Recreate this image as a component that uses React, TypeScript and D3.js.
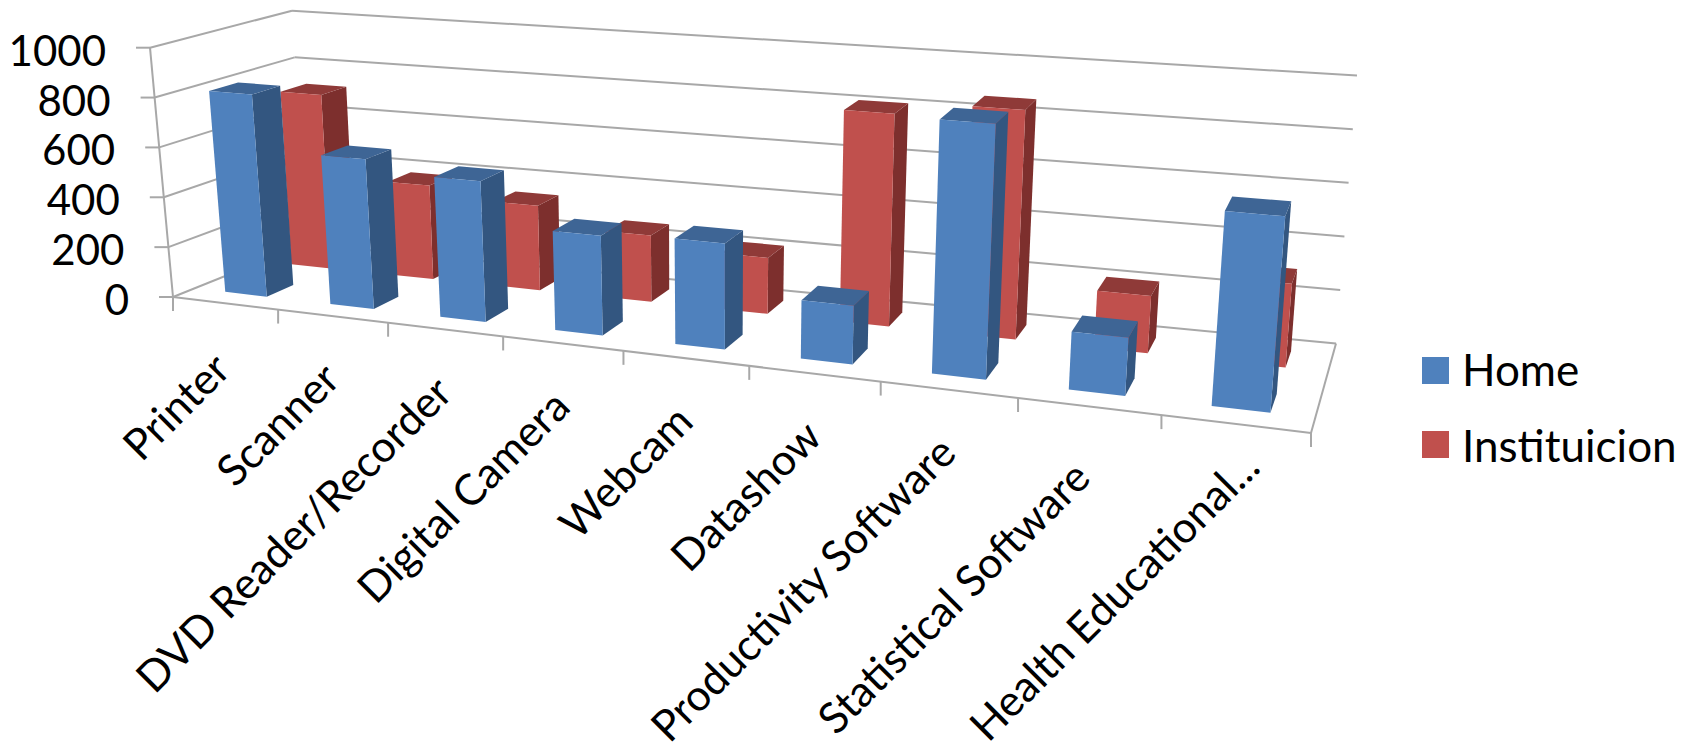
import React from "react";
import * as d3 from "d3";

const categories = [
  "Printer", "Scanner", "DVD Reader/Recorder", "Digital Camera", "Webcam",
  "Datashow", "Productivity Software", "Statistical Software", "Health Educational...",
];
const homeValues = [810, 590, 545, 380, 397, 215, 922, 205, 680];
const institutionValues = [720, 382, 340, 262, 218, 815, 865, 212, 305];
const valueTicks = [0, 200, 400, 600, 800, 1000];
const seriesNames = ["Home", "Instituicion"];

const WIDTH = 1694;
const HEIGHT = 751;
const FONT = "Lato, Carlito, sans-serif";
const GRID = "#a8a8a8";

type P = [number, number];

// Screen quads of the floor and the ceiling of the plot box, in the order
// front-left, front-right, back-right, back-left.
const floorQuad: P[] = [[173, 297], [1311, 433], [1336, 343.6], [305, 244]];
const ceilingQuad: P[] = [[150, 47.7], [1335, 138], [1357, 75.6], [292, 10.7]];

// Eases the foreshortening along the category direction; the back of the box eases less.
const easeCategory = (u: number, w: number) => u + (0.135 - 0.03 * w) * u * (1 - u);

// Per-label adjustment of the slanted category text.
const labelNudges: Record<string, P> = {
  Printer: [-2, 3],
  "Statistical Software": [-6, 8],
  "Health Educational...": [17, -20],
};

// Perspective mapping of the unit square onto a quad.
function squareToQuad(q: P[]) {
  const [[x0, y0], [x1, y1], [x2, y2], [x3, y3]] = q;
  const dx1 = x1 - x2, dx2 = x3 - x2, sx = x0 - x1 + x2 - x3;
  const dy1 = y1 - y2, dy2 = y3 - y2, sy = y0 - y1 + y2 - y3;
  const den = dx1 * dy2 - dx2 * dy1;
  const g = (sx * dy2 - dx2 * sy) / den;
  const h = (dx1 * sy - sx * dy1) / den;
  const a = x1 - x0 + g * x1, b = x3 - x0 + h * x3;
  const d = y1 - y0 + g * y1, e = y3 - y0 + h * y3;
  return (u: number, w: number): P => {
    const k = g * u + h * w + 1;
    return [(a * u + b * w + x0) / k, (d * u + e * w + y0) / k];
  };
}

const floorAt = squareToQuad(floorQuad);
const ceilingAt = squareToQuad(ceilingQuad);

// (category, value, depth), each in 0..1, to screen position.
const project = (u: number, v: number, w: number): P => {
  const e = easeCategory(u, w);
  const f = floorAt(e, w);
  const c = ceilingAt(e, w);
  return [f[0] + (c[0] - f[0]) * v, f[1] + (c[1] - f[1]) * v];
};

const valueScale = d3.scaleLinear().domain([0, 1000]).range([0, 1]);
const categoryScale = d3.scaleBand<string>().domain(categories).range([0, 1]).paddingInner(0.6).paddingOuter(0.3);
const categoryEdge = d3.scaleLinear().domain([0, categories.length]).range([0, 1]);
const depthScale = d3.scaleBand<string>().domain([...seriesNames]).range([0, 1]).paddingInner(0.6).paddingOuter(0.3);

const poly = (pts: P[]) => d3.line()(pts) + "Z";

const seriesStyles: Record<string, { front: string; top: string; side: string }> = {
  Home: { front: "#4f81bd", top: "#3e6595", side: "#335680" },
  Instituicion: { front: "#c0504d", top: "#8f3a38", side: "#7d2f2d" },
};

function Bar({ category, series, value }: { category: string; series: string; value: number }) {
  const u0 = categoryScale(category)!;
  const u1 = u0 + categoryScale.bandwidth();
  const w0 = depthScale(series)!;
  const w1 = w0 + depthScale.bandwidth();
  const v = valueScale(value);
  const s = seriesStyles[series];
  return (
    <g>
      <path d={poly([project(u1, 0, w0), project(u1, 0, w1), project(u1, v, w1), project(u1, v, w0)])} fill={s.side} />
      <path d={poly([project(u0, v, w0), project(u1, v, w0), project(u1, v, w1), project(u0, v, w1)])} fill={s.top} />
      <path d={poly([project(u0, 0, w0), project(u1, 0, w0), project(u1, v, w0), project(u0, v, w0)])} fill={s.front} />
    </g>
  );
}

const Line = ({ a, b }: { a: P; b: P }) => (
  <line x1={a[0]} y1={a[1]} x2={b[0]} y2={b[1]} stroke={GRID} strokeWidth={2} />
);

export default function App() {
  return (
    <svg
      width={WIDTH}
      height={HEIGHT}
      viewBox={`0 0 ${WIDTH} ${HEIGHT}`}
      style={{ position: "absolute", left: 0, top: 0, background: "#fff", display: "block" }}
    >
      {/* Walls: gridlines on the left and back planes */}
      {valueTicks.map((t) => {
        const v = valueScale(t);
        return (
          <g key={t}>
            <Line a={project(0, v, 0)} b={project(0, v, 1)} />
            <Line a={project(0, v, 1)} b={project(1, v, 1)} />
          </g>
        );
      })}
      <Line a={project(0, 0, 0)} b={project(0, 1, 0)} />
      <Line a={project(0, 0, 0)} b={project(1, 0, 0)} />
      <Line a={project(1, 0, 0)} b={project(1, 0, 1)} />

      {/* Value axis ticks and labels */}
      {valueTicks.map((t) => {
        const [x, y] = project(0, valueScale(t), 0);
        return (
          <g key={t}>
            <Line a={[x - 14, y]} b={[x, y]} />
            <text x={x - 44} y={y + 2} textAnchor="end" dominantBaseline="central" fontFamily={FONT} fontSize={42} fill="#000">
              {t}
            </text>
          </g>
        );
      })}

      {/* Category ticks and slanted labels */}
      {d3.range(categories.length + 1).map((i) => {
        const [x, y] = project(categoryEdge(i), 0, 0);
        return <Line key={i} a={[x, y]} b={[x, y + 14]} />;
      })}
      {categories.map((c, i) => {
        const [x, y] = project(categoryEdge(i + 0.5), 0, 0);
        const [nx, ny] = labelNudges[c] ?? [0, 0];
        return (
          <text
            key={c}
            transform={`translate(${x - 2 + nx},${y + 54 + ny}) rotate(-45)`}
            textAnchor="end"
            dominantBaseline="central"
            fontFamily={FONT}
            fontSize={43}
            fill="#000"
          >
            {c}
          </text>
        );
      })}

      {/* Back row first, then front row, each from left to right */}
      {categories.map((c, i) => (
        <Bar key={c} category={c} series="Instituicion" value={institutionValues[i]} />
      ))}
      {categories.map((c, i) => (
        <Bar key={c} category={c} series="Home" value={homeValues[i]} />
      ))}

      {/* Legend */}
      {seriesNames.map((name, i) => (
        <g key={name}>
          <rect x={1422} y={357 + i * 74} width={27} height={27} fill={seriesStyles[name].front} />
          <text x={1462} y={369 + i * 76} dominantBaseline="central" fontFamily={FONT} fontSize={44} fill="#000">
            {name}
          </text>
        </g>
      ))}
    </svg>
  );
}
